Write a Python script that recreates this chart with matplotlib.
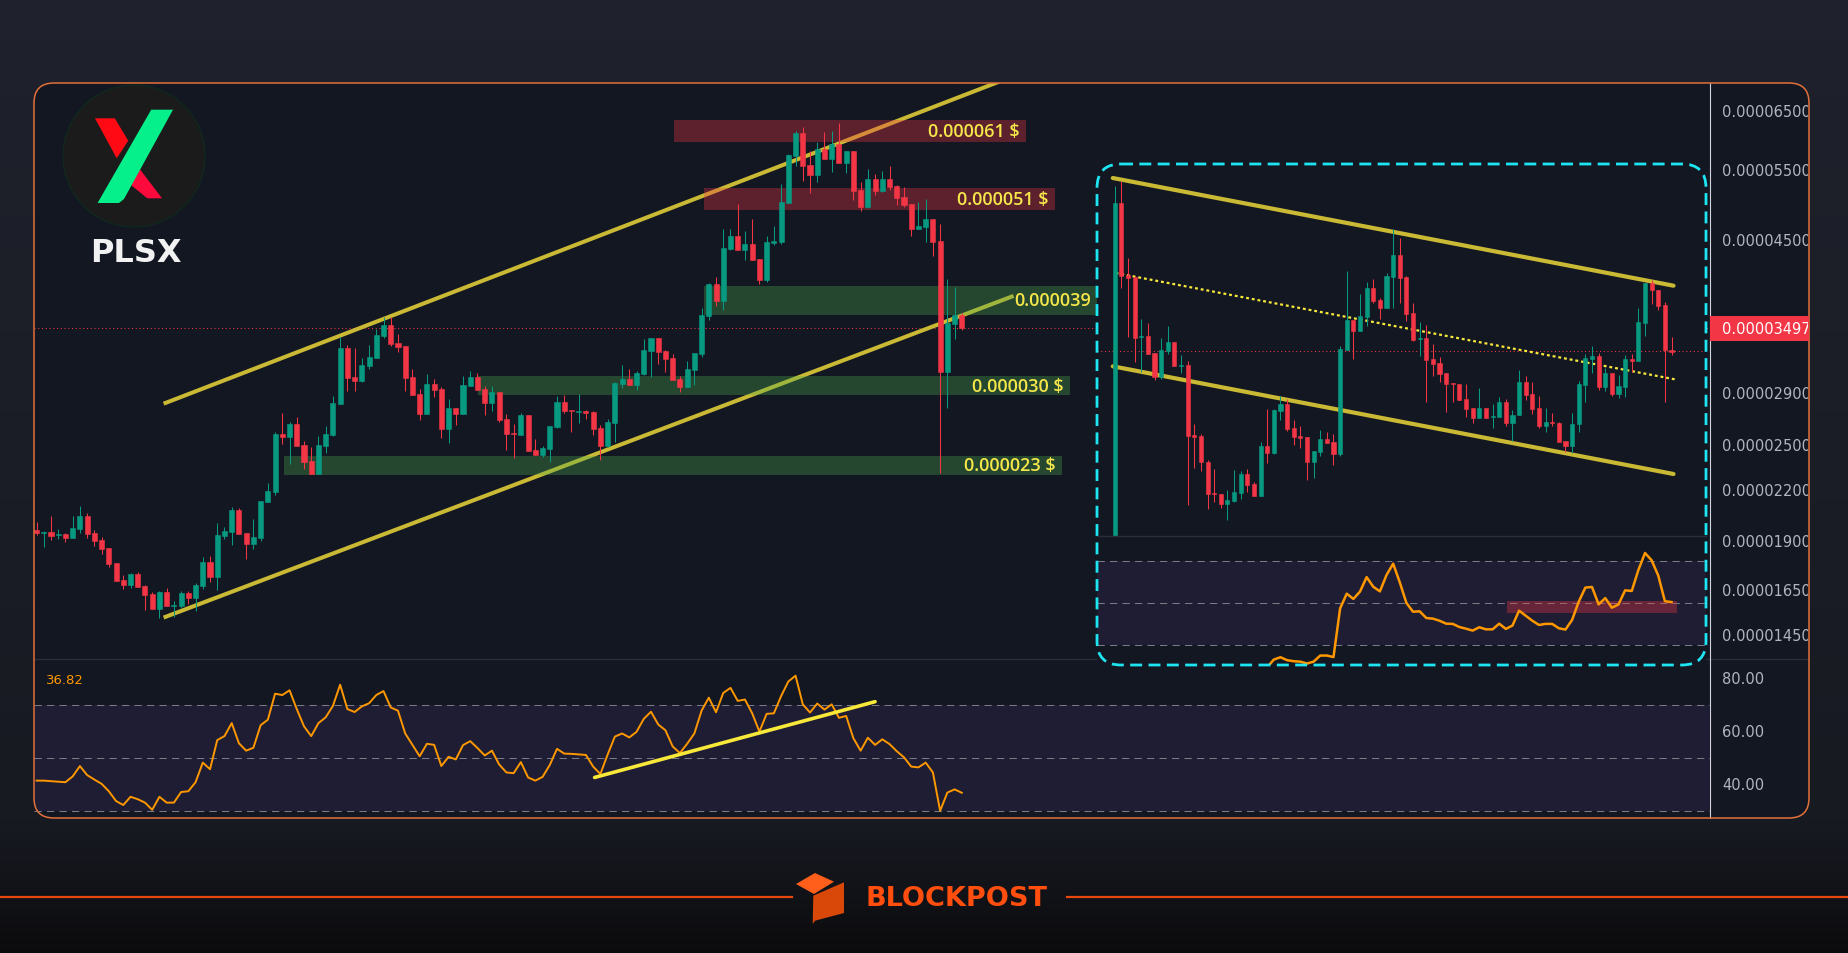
import numpy as np
import matplotlib
matplotlib.use("Agg")
import matplotlib.pyplot as plt
from matplotlib.patches import FancyBboxPatch, Rectangle, Polygon, Circle
from matplotlib.transforms import Bbox, TransformedBbox, IdentityTransform, blended_transform_factory

W, H = 1848, 954
SCALE = 1e-6  # prices below are in millionths of a dollar

# ---------------- main chart data (PLSX) ----------------
main_open = [19.62, 19.46, 19.51, 19.34, 19.40, 19.18, 19.68, 20.43, 19.46, 19.07,
             18.63, 17.86, 17.00, 16.76, 17.30, 16.71, 16.33, 15.65, 16.43, 15.79,
             15.79, 16.38, 16.15, 16.71, 17.91, 17.15, 19.29, 19.51, 20.78, 19.46,
             18.85, 19.18, 21.27, 21.88, 25.84, 25.62, 26.59, 25.04, 23.91, 23.04,
             24.96, 25.77, 28.16, 33.06, 30.43, 30.08, 31.40, 32.12, 34.21, 35.30,
             33.54, 33.25, 30.43, 28.97, 27.37, 29.82, 29.39, 26.21, 27.84, 27.37,
             29.65, 30.43, 29.39, 28.24, 29.14, 26.97, 25.91, 25.77, 27.29, 24.68,
             24.33, 24.75, 26.36, 28.32, 27.68, 27.52, 27.60, 27.52, 26.28, 24.96,
             26.66, 29.82, 30.25, 29.73, 30.69, 32.78, 34.02, 32.78, 32.12, 30.25,
             29.56, 31.04, 32.50, 36.23, 39.71, 37.82, 43.90, 45.57, 43.78, 44.53,
             42.66, 40.17, 44.66, 44.79, 50.09, 57.30, 61.22, 55.85, 54.27, 58.46,
             56.81, 59.31, 56.17, 58.13, 51.98, 49.52, 53.65, 51.83, 53.65, 52.58,
             50.96, 49.94, 46.49, 46.76, 47.84, 44.91, 30.86, 35.41, 36.33]
main_high = [20.08, 19.57, 20.43, 19.68, 19.46, 20.43, 21.02, 20.60, 19.62, 19.23,
             18.63, 17.86, 17.25, 17.35, 17.40, 16.76, 16.43, 16.48, 16.62, 16.01,
             16.48, 16.48, 16.86, 18.16, 18.22, 20.02, 19.79, 20.96, 20.90, 19.46,
             20.25, 21.33, 22.45, 25.99, 27.45, 26.74, 27.13, 25.33, 24.89, 25.69,
             26.44, 28.81, 34.10, 33.34, 33.06, 32.12, 33.34, 34.90, 36.12, 36.12,
             34.41, 33.25, 31.13, 29.39, 30.69, 30.25, 29.56, 28.56, 27.84, 30.51,
             30.95, 30.78, 29.65, 29.65, 29.14, 27.37, 26.59, 27.45, 27.29, 25.47,
             24.96, 26.44, 28.81, 28.89, 27.68, 28.97, 27.68, 27.60, 26.51, 26.97,
             29.99, 31.49, 31.13, 30.95, 33.92, 34.02, 34.02, 32.87, 32.50, 30.51,
             31.85, 32.59, 37.06, 39.82, 40.51, 46.49, 46.49, 49.94, 46.22, 47.84,
             42.66, 45.57, 46.89, 52.88, 57.64, 61.57, 62.28, 58.13, 59.65, 61.39,
             61.57, 62.99, 58.13, 58.13, 53.19, 55.21, 54.43, 54.90, 55.69, 52.73,
             52.43, 49.94, 50.23, 50.66, 47.84, 47.16, 40.28, 39.37, 36.54]
main_low = [19.34, 18.69, 19.07, 19.12, 18.96, 19.18, 19.46, 19.18, 18.74, 18.32,
            17.65, 16.95, 16.57, 16.62, 16.66, 15.60, 15.65, 15.25, 15.79, 15.29,
            15.70, 15.88, 15.56, 16.57, 16.90, 16.52, 19.12, 18.80, 19.40, 18.06,
            18.58, 19.01, 21.27, 21.70, 25.11, 23.71, 24.96, 23.37, 23.04, 23.04,
            24.47, 25.69, 28.16, 29.22, 29.22, 29.99, 31.13, 32.12, 34.02, 33.25,
            32.68, 29.22, 28.89, 26.89, 27.37, 28.72, 25.54, 25.18, 26.51, 27.37,
            29.65, 29.31, 27.29, 27.60, 26.74, 24.68, 24.12, 25.77, 24.61, 24.33,
            24.19, 23.85, 26.28, 27.45, 25.99, 26.66, 26.97, 25.77, 23.98, 24.89,
            25.26, 29.47, 29.73, 29.31, 30.60, 30.43, 31.58, 30.86, 30.16, 29.14,
            29.56, 29.73, 32.22, 35.82, 37.28, 36.85, 43.78, 43.78, 42.54, 42.54,
            39.71, 39.94, 44.41, 44.53, 50.09, 55.69, 53.35, 51.54, 53.19, 56.81,
            54.74, 56.17, 54.58, 50.52, 48.95, 49.37, 51.24, 51.68, 51.98, 49.80,
            49.52, 45.57, 46.49, 44.79, 43.03, 23.11, 27.84, 33.92, 34.80]
main_close = [19.46, 19.51, 19.29, 19.40, 19.18, 19.74, 20.43, 19.40, 19.01, 18.58,
              17.80, 16.95, 16.76, 17.30, 16.66, 16.29, 15.65, 16.43, 15.79, 15.83,
              16.38, 16.15, 16.76, 17.91, 17.15, 19.34, 19.57, 20.78, 19.40, 18.85,
              19.23, 21.33, 21.94, 25.84, 25.62, 26.59, 24.96, 23.85, 23.04, 25.04,
              25.84, 28.24, 33.06, 30.34, 30.08, 31.49, 32.22, 34.31, 35.30, 33.44,
              33.15, 30.34, 28.89, 27.37, 29.82, 29.31, 26.21, 27.84, 27.37, 29.73,
              30.43, 29.31, 28.24, 29.14, 26.89, 25.84, 25.84, 27.29, 24.61, 24.33,
              24.82, 26.44, 28.32, 27.60, 27.60, 27.60, 27.45, 26.21, 24.96, 26.74,
              29.90, 30.25, 29.73, 30.78, 32.87, 34.02, 32.68, 32.03, 30.16, 29.56,
              31.13, 32.59, 36.33, 39.71, 37.82, 44.03, 45.57, 43.78, 44.53, 42.54,
              40.17, 44.79, 44.91, 50.23, 57.47, 61.22, 55.69, 54.27, 58.46, 56.81,
              59.31, 56.17, 58.13, 51.83, 49.52, 53.65, 51.83, 53.65, 52.43, 50.81,
              49.80, 46.49, 46.89, 47.84, 44.79, 30.86, 35.51, 36.33, 34.97]
main_rsi = [41.4, 41.4, 41.2, 41.0, 40.8, 43.0, 46.9, 43.5, 41.8, 40.2,
            37.4, 33.7, 32.2, 35.3, 34.4, 33.1, 30.4, 35.3, 33.1, 33.1,
            37.1, 37.4, 40.8, 48.2, 45.7, 56.7, 58.2, 63.1, 55.5, 52.7,
            53.8, 62.3, 64.4, 74.2, 73.7, 75.5, 68.4, 61.9, 58.2, 63.1,
            65.3, 69.6, 77.6, 68.4, 67.3, 69.4, 70.6, 73.7, 75.2, 69.0,
            67.8, 59.2, 54.9, 50.6, 55.3, 54.9, 46.9, 50.4, 49.4, 54.8,
            56.3, 53.7, 50.9, 52.7, 47.5, 44.5, 44.2, 48.4, 42.6, 41.4,
            42.8, 47.3, 53.4, 51.6, 51.5, 51.3, 51.1, 46.7, 43.9, 51.2,
            58.0, 59.2, 57.7, 59.8, 64.7, 67.4, 62.6, 60.4, 54.3, 51.8,
            55.3, 59.2, 67.8, 72.7, 67.2, 74.5, 76.4, 71.5, 72.0, 66.8,
            59.9, 66.6, 66.8, 73.3, 78.8, 81.0, 70.2, 67.1, 70.5, 68.2,
            70.2, 65.1, 65.8, 57.4, 52.7, 57.6, 54.9, 57.0, 55.2, 52.5,
            50.2, 46.7, 46.4, 48.2, 44.5, 30.0, 36.9, 38.1, 36.82]

upper_channel_x = [17.84, 133.3]
upper_channel_y = [28.24, 70.98]
lower_channel_x = [17.84, 134.9]
lower_channel_y = [15.30, 38.30]
rsi_trend_x = [77.2, 116.0]
rsi_trend_y = [42.6, 71.2]

zone_labels = ["0.000061 $", "0.000051 $", "0.000039", "0.000030 $", "0.000023 $"]
zone_kind = ["res", "res", "sup", "sup", "sup"]
zone_low = [59.70, 49.13, 36.37, 28.87, 22.98]
zone_high = [63.53, 52.28, 39.48, 30.50, 24.26]
zone_start = [88.2, 92.3, 92.3, 61.1, 34.2]
zone_end = [136.9, 140.9, 146.9, 143.0, 141.9]

price_ticks = [65, 55, 45, 29, 25, 22, 19, 16.5, 14.5]
last_price = 34.97
rsi_ticks = [80, 60, 40]
rsi_levels = [70, 50, 30]

# ---------------- inset chart data ----------------
inset_open = [16.0, 49.8, 42.6, 42.43, 36.4, 36.5, 34.8, 32.37, 35.0, 35.9,
              33.5, 33.6, 26.6, 26.5, 23.9, 20.8, 20.7, 19.73, 20.03, 20.8,
              22.7, 21.7, 20.53, 25.5, 24.83, 29.03, 29.7, 27.27, 26.5, 26.4,
              23.93, 24.93, 26.2, 25.9, 24.73, 35.1, 38.1, 37.03, 38.43, 41.3,
              40.1, 39.3, 42.4, 44.6, 42.43, 38.8, 36.17, 36.3, 34.2, 33.8,
              32.8, 31.77, 31.73, 30.2, 29.3, 28.33, 29.3, 28.43, 28.43, 29.9,
              27.83, 28.6, 31.9, 30.7, 29.3, 27.53, 27.93, 27.83, 26.0, 25.53,
              27.73, 31.63, 34.2, 34.5, 31.43, 32.8, 30.73, 31.43, 34.2, 34.03,
              37.83, 41.8, 41.13, 39.63, 35.1]
inset_high = [51.53, 52.03, 44.3, 42.43, 38.2, 37.8, 34.8, 36.27, 37.5, 35.9,
              34.6, 34.0, 27.7, 26.7, 24.1, 23.2, 20.7, 21.13, 23.1, 23.0,
              23.2, 21.87, 25.9, 29.2, 29.2, 30.53, 30.2, 28.13, 27.53, 26.4,
              25.03, 27.1, 26.93, 26.7, 35.53, 43.0, 38.1, 40.7, 41.9, 42.2,
              40.3, 42.8, 47.2, 46.33, 42.53, 39.83, 37.9, 37.6, 35.7, 34.4,
              32.8, 31.77, 31.73, 31.7, 29.3, 31.3, 29.3, 29.7, 30.4, 30.2,
              29.1, 33.1, 32.53, 31.87, 30.5, 29.3, 28.77, 27.9, 26.0, 28.8,
              32.0, 34.7, 35.5, 34.8, 33.33, 32.8, 32.63, 34.6, 34.7, 39.3,
              41.8, 42.1, 41.13, 39.9, 36.4]
inset_low = [16.0, 41.3, 36.37, 33.93, 32.93, 34.73, 32.1, 32.2, 34.73, 33.53,
             32.8, 19.63, 23.3, 23.03, 19.23, 19.87, 19.33, 18.13, 19.93, 20.2,
             20.93, 20.53, 20.53, 23.83, 24.7, 28.13, 27.0, 25.63, 25.3, 22.13,
             22.33, 24.47, 25.83, 23.63, 24.53, 35.1, 34.23, 37.03, 37.53, 39.83,
             38.23, 39.3, 39.3, 39.8, 38.03, 36.03, 34.53, 29.93, 32.53, 31.93,
             28.93, 29.93, 30.13, 28.43, 27.83, 28.33, 28.33, 27.33, 28.43, 27.53,
             26.03, 28.6, 30.13, 28.73, 27.33, 26.93, 27.53, 25.93, 24.93, 24.83,
             26.93, 29.93, 32.8, 31.13, 31.03, 30.53, 30.33, 30.43, 32.93, 34.03,
             36.53, 39.73, 39.13, 29.93, 34.63]
inset_close = [49.8, 42.53, 42.33, 36.3, 36.5, 34.73, 32.43, 35.07, 35.9, 33.53,
               33.6, 26.53, 26.43, 23.87, 20.73, 20.67, 19.73, 20.1, 20.9, 22.7,
               21.63, 20.53, 25.5, 24.83, 29.1, 29.7, 27.2, 26.43, 26.33, 23.93,
               25.03, 26.2, 25.83, 24.73, 35.2, 38.1, 37.03, 38.5, 41.3, 40.0,
               39.3, 42.5, 44.6, 42.33, 38.73, 36.13, 36.3, 34.13, 33.73, 32.73,
               31.73, 31.67, 30.13, 29.23, 28.33, 29.3, 28.33, 28.53, 29.9, 27.83,
               28.6, 31.9, 30.63, 29.23, 27.53, 27.9, 27.8, 25.93, 25.53, 27.73,
               31.7, 34.3, 34.5, 31.43, 32.8, 30.73, 31.53, 34.2, 34.03, 37.9,
               41.8, 41.13, 39.53, 35.1, 34.93]
inset_rsi_first = 23
inset_rsi = [19.5, 23.2, 24.3, 22.9, 22.4, 22.2, 21.3, 22.2, 25.1, 25.1, 24.4,
             47.6, 54.6, 52.1, 55.6, 62.5, 57.9, 55.7, 63.5, 68.9, 60.0,
             50.2, 46.0, 46.2, 43.0, 42.7, 41.7, 40.3, 40.2, 38.7, 37.9,
             37.0, 38.6, 37.6, 37.6, 40.3, 37.8, 39.4, 46.5, 44.1, 41.7,
             39.7, 40.2, 40.2, 38.1, 37.5, 42.1, 50.8, 57.5, 57.8, 49.5,
             52.5, 47.9, 49.5, 56.2, 55.9, 65.9, 74.0, 70.5, 63.2, 51.0, 50.6]
inset_upper_x = [-0.3, 84.3]
inset_upper_y = [52.3, 41.53]
inset_lower_x = [-0.3, 84.3]
inset_lower_y = [33.47, 22.7]
inset_mid_x = [0.12, 84.8]
inset_mid_y = [42.8, 32.13]
inset_rsi_zone_x = [59.2, 84.9]
inset_rsi_zone_y = [45.4, 51.1]

# ---------------- styling ----------------
PANEL_BG = "#131722"
GREEN = "#089981"
RED = "#f23645"
TREND = "#c9b934"
LABEL_YEL = "#f5e64a"
GRID_GRAY = "#787b86"
TEXT_GRAY = "#b2b5be"
RSI_BAND = "#1e1d33"
ORANGE = "#ff9800"

fig = plt.figure(figsize=(W / 100, H / 100), dpi=100)


def frac(x0, y0, x1, y1):
    return [x0 / W, 1 - y1 / H, (x1 - x0) / W, (y1 - y0) / H]


def hide(ax):
    ax.set_xticks([])
    ax.set_yticks([])
    ax.minorticks_off()
    for s in ax.spines.values():
        s.set_visible(False)


def candles(ax, o, h, l, c, width):
    o, h, l, c = (np.asarray(v, float) * SCALE for v in (o, h, l, c))
    x = np.arange(len(o))
    cols = np.where(c >= o, GREEN, RED)
    ax.vlines(x, l, h, colors=cols, lw=0.75, zorder=4)
    lo = np.minimum(o, c)
    hi = np.maximum(o, c)
    ax.bar(x, hi - lo, bottom=lo, width=width, color=cols, edgecolor=cols,
           linewidth=0.4, zorder=4)


# ---- background ----
ax_bg = fig.add_axes([0, 0, 1, 1], zorder=0)
stops_y = [0, 84, 820, 880, 954]
stops_c = np.array([[0.125, 0.137, 0.176], [0.118, 0.129, 0.169],
                    [0.094, 0.102, 0.133], [0.075, 0.079, 0.102],
                    [0.045, 0.045, 0.052]])
yy = np.arange(H)
grad = np.stack([np.interp(yy, stops_y, stops_c[:, k]) for k in range(3)], axis=-1)[:, None, :]
ax_bg.imshow(grad, extent=(0, W, H, 0), aspect="auto", interpolation="bilinear", zorder=0)
ax_bg.set_xlim(0, W)
ax_bg.set_ylim(H, 0)
ax_bg.axis("off")
panel = FancyBboxPatch((34, 84), 1775, 735, boxstyle="round,pad=0,rounding_size=20",
                       fc=PANEL_BG, ec="none", zorder=1)
ax_bg.add_patch(panel)
ax_bg.plot([34, 1809], [660, 660], color="#2a2e39", lw=1, zorder=2)
ax_bg.plot([1710, 1710], [84, 819], color="#d1d4dc", lw=0.8, zorder=2)

# ---- main price pane ----
ax = fig.add_axes(frac(34, 84, 1710, 660), zorder=1)
ax.set_yscale("log")
ax.set_xlim(-0.35, 231.5)
ax.set_ylim(13.56 * SCALE, 70.63 * SCALE)
ax.axis("off")
ax.axhline(last_price * SCALE, color=RED, lw=0.75, ls=(0, (1, 2.6)), zorder=1)
ax.plot(upper_channel_x, np.array(upper_channel_y) * SCALE, color=TREND, lw=2.9, zorder=2)
ax.plot(lower_channel_x, np.array(lower_channel_y) * SCALE, color=TREND, lw=2.9, zorder=2)
for lbl, kind, lo, hi, s, e in zip(zone_labels, zone_kind, zone_low, zone_high, zone_start, zone_end):
    col = (0.949, 0.212, 0.271, 0.33) if kind == "res" else (0.298, 0.686, 0.314, 0.32)
    ax.add_patch(Rectangle((s, lo * SCALE), e - s, (hi - lo) * SCALE, fc=col, ec="none", zorder=3))
    ax.annotate(lbl, xy=(e, np.sqrt(lo * hi) * SCALE), xytext=(-5, 0), textcoords="offset points",
                ha="right", va="center", color=LABEL_YEL, fontsize=13,
                family=["Open Sans", "DejaVu Sans"], fontweight="semibold", zorder=5)
candles(ax, main_open, main_high, main_low, main_close, 0.7)

# ---- main RSI pane ----
ax_r = fig.add_axes(frac(34, 660, 1710, 819), zorder=1)
ax_r.set_xlim(-0.35, 231.5)
ax_r.set_ylim(27.3, 87.3)
ax_r.axis("off")
band = ax_r.axhspan(rsi_levels[-1], rsi_levels[0], fc=RSI_BAND, ec="none", zorder=0)
band.set_clip_path(panel)
for lv in rsi_levels:
    ax_r.axhline(lv, color=GRID_GRAY, lw=0.75, ls=(0, (7, 5)), zorder=1)
ax_r.plot(np.arange(len(main_rsi)), main_rsi, color=ORANGE, lw=1.4, zorder=3)
ax_r.plot(rsi_trend_x, rsi_trend_y, color="#f7e83a", lw=2.6, solid_capstyle="round", zorder=4)

# ---- inset (zoomed) chart ----
ax_i = fig.add_axes(frac(1097, 165, 1706, 537), zorder=2)
ax_i.set_facecolor(PANEL_BG)
ax_i.set_xlim(-2.68, 89.2)
ax_i.set_ylim(16.5 * SCALE, 53.7 * SCALE)
hide(ax_i)
ax_i.axhline(last_price * SCALE, color=RED, lw=0.75, ls=(0, (1, 2.6)), zorder=1)
ax_i.plot(inset_upper_x, np.array(inset_upper_y) * SCALE, color=TREND, lw=3.0,
          solid_capstyle="round", zorder=2)
ax_i.plot(inset_lower_x, np.array(inset_lower_y) * SCALE, color=TREND, lw=3.0,
          solid_capstyle="round", zorder=2)
ax_i.plot(inset_mid_x, np.array(inset_mid_y) * SCALE, color="#f7e83a", lw=1.6,
          ls=(0, (1.3, 1.3)), zorder=3)
candles(ax_i, inset_open, inset_high, inset_low, inset_close, 0.62)

ax_ir = fig.add_axes(frac(1097, 537, 1706, 666), zorder=2)
ax_ir.set_facecolor(PANEL_BG)
ax_ir.set_xlim(-2.68, 89.2)
ax_ir.set_ylim(20.6, 82.1)
hide(ax_ir)
ax_ir.axhspan(rsi_levels[-1], rsi_levels[0], fc=RSI_BAND, ec="none", zorder=0)
for lv in rsi_levels:
    ax_ir.axhline(lv, color=GRID_GRAY, lw=0.75, ls=(0, (7, 5)), zorder=1)
ax_ir.add_patch(Rectangle((inset_rsi_zone_x[0], inset_rsi_zone_y[0]),
                          inset_rsi_zone_x[1] - inset_rsi_zone_x[0],
                          inset_rsi_zone_y[1] - inset_rsi_zone_y[0],
                          fc=(0.949, 0.212, 0.271, 0.35), ec="none", zorder=2))
ax_ir.plot(np.arange(inset_rsi_first, inset_rsi_first + len(inset_rsi)), inset_rsi,
           color=ORANGE, lw=1.8, zorder=3)

# ---- overlay ----
ax_o = fig.add_axes([0, 0, 1, 1], zorder=3)
ax_o.set_xlim(0, W)
ax_o.set_ylim(H, 0)
ax_o.axis("off")
ax_o.plot([1097, 1706], [537, 537], color="#2a2e39", lw=1)
ax_o.add_patch(FancyBboxPatch((1097, 165), 609, 501, boxstyle="round,pad=0,rounding_size=24",
                              fc="none", ec="#1de5f2", lw=2.0, ls=(0, (4.3, 2.3))))
ax_o.add_patch(FancyBboxPatch((34, 84), 1775, 735, boxstyle="round,pad=0,rounding_size=20",
                              fc="none", ec="#e2703a", lw=1.1))

clip = TransformedBbox(Bbox.from_extents(0, 0, 1808, H), IdentityTransform())
tr_price = blended_transform_factory(ax_o.transData, ax.transData)
for v in price_ticks:
    t = ax_o.text(1722, v * SCALE, f"{v * SCALE:.8f}", transform=tr_price, color=TEXT_GRAY,
                  fontsize=10.5, va="center", ha="left", family="DejaVu Sans")
    t.set_clip_on(True)
    t.set_clip_box(clip)
y_last = H - ax.transData.transform((0, last_price * SCALE))[1]
box = Rectangle((1710, y_last - 12.2), 110, 24.4, fc=RED, ec="none")
ax_o.add_patch(box)
box.set_clip_path(panel)
t = ax_o.text(1722, y_last, f"{last_price * SCALE:.8f}", color="white", fontsize=10.5,
              va="center", ha="left", family="DejaVu Sans")
t.set_clip_on(True)
t.set_clip_box(clip)
tr_rsi = blended_transform_factory(ax_o.transData, ax_r.transData)
for v in rsi_ticks:
    ax_o.text(1722, v, f"{v:.2f}", transform=tr_rsi, color=TEXT_GRAY, fontsize=10.5,
              va="center", ha="left", family="DejaVu Sans")
ax_o.text(46, 681, f"{main_rsi[-1]:.2f}", color=ORANGE, fontsize=9.5, va="center", ha="left",
          family=["Liberation Sans Narrow", "DejaVu Sans"])

# logo
ax_o.add_patch(Circle((134, 157), 71, fc="#1b1b1c", ec="#10281e", lw=1.0))
ax_o.add_patch(Polygon([(95, 119.3), (114.8, 119.3), (128.2, 141.7), (116.7, 159.3)],
                       closed=True, fc="#ff0a14", ec="none"))
ax_o.add_patch(Polygon([(131, 186), (139.7, 170), (162, 199.3), (147.3, 199.3)],
                       closed=True, fc="#ff0a3c", ec="none"))
ax_o.add_patch(Polygon([(151.2, 110.7), (173, 110.7), (124, 200), (119, 204), (97.6, 204)],
                       closed=True, fc="#05f08a", ec="none"))
ax_o.text(136, 253, "PLSX", color="#f2f2f2", fontsize=23, fontweight="bold",
          ha="center", va="center", family="DejaVu Sans")

# footer
ax_o.plot([0, 792], [898, 898], color="#e8470f", lw=1.6)
ax_o.plot([1067, W], [898, 898], color="#e8470f", lw=1.6)
ax_o.add_patch(Polygon([(796, 885), (815, 874), (834, 882.7), (814, 895)], closed=True,
                       fc="#ff5f1a", ec="none"))
ax_o.add_patch(Polygon([(813.3, 896.7), (844, 883.3), (844, 914), (815, 921.7), (812.7, 925)],
                       closed=True, fc="#d94808", ec="none"))
ax_o.text(956, 899, "BLOCKPOST", color="#ff4e0e", fontsize=19.5, fontweight="bold",
          ha="center", va="center", family="DejaVu Sans")

fig.savefig("out.png", dpi=100, facecolor=fig.get_facecolor())
